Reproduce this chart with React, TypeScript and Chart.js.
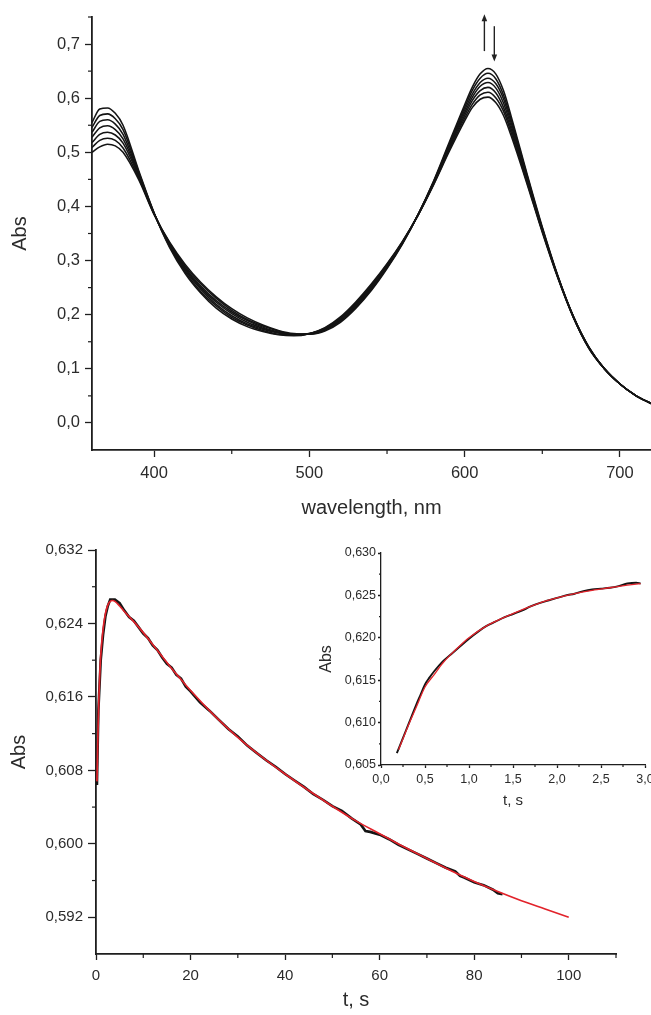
import React, { useEffect, useRef } from 'react';
import { Chart, registerables } from 'chart.js';

Chart.register(...registerables);

// ---------- Top panel: absorption spectra ----------
const WAVELENGTHS = [360, 365, 370, 375, 380, 390, 400, 410, 420, 430, 440, 450, 460, 470, 480, 490, 500, 510, 520, 530, 540, 550, 560, 570, 580, 590, 600, 605, 610, 615, 620, 625, 630, 640, 650, 660, 670, 680, 690, 700, 710, 720];
const SPEC_A = [0.555, 0.580, 0.582, 0.572, 0.550, 0.467, 0.388, 0.324, 0.276, 0.240, 0.212, 0.192, 0.178, 0.169, 0.163, 0.161, 0.165, 0.176, 0.196, 0.224, 0.257, 0.294, 0.336, 0.384, 0.440, 0.501, 0.558, 0.583, 0.598, 0.602, 0.592, 0.568, 0.530, 0.443, 0.352, 0.268, 0.195, 0.138, 0.100, 0.072, 0.051, 0.036];
const SPEC_B = [0.546, 0.568, 0.571, 0.562, 0.542, 0.464, 0.388, 0.326, 0.279, 0.243, 0.216, 0.195, 0.181, 0.171, 0.164, 0.162, 0.165, 0.175, 0.194, 0.222, 0.255, 0.293, 0.335, 0.384, 0.441, 0.504, 0.563, 0.589, 0.606, 0.611, 0.601, 0.576, 0.536, 0.446, 0.354, 0.269, 0.195, 0.138, 0.100, 0.072, 0.051, 0.036];
const SPEC_C = [0.537, 0.557, 0.560, 0.552, 0.533, 0.461, 0.387, 0.327, 0.282, 0.247, 0.219, 0.198, 0.183, 0.173, 0.166, 0.162, 0.165, 0.174, 0.193, 0.220, 0.253, 0.291, 0.334, 0.384, 0.442, 0.507, 0.568, 0.596, 0.614, 0.620, 0.610, 0.583, 0.542, 0.449, 0.355, 0.269, 0.196, 0.139, 0.100, 0.072, 0.051, 0.036];
const SPEC_D = [0.528, 0.545, 0.549, 0.542, 0.525, 0.459, 0.387, 0.329, 0.285, 0.250, 0.223, 0.202, 0.186, 0.175, 0.167, 0.163, 0.165, 0.173, 0.191, 0.218, 0.251, 0.290, 0.334, 0.385, 0.444, 0.510, 0.573, 0.602, 0.622, 0.629, 0.619, 0.591, 0.548, 0.453, 0.357, 0.270, 0.196, 0.139, 0.100, 0.072, 0.051, 0.036];
const SPEC_E = [0.518, 0.533, 0.537, 0.532, 0.517, 0.456, 0.386, 0.331, 0.287, 0.253, 0.226, 0.205, 0.189, 0.177, 0.168, 0.164, 0.164, 0.172, 0.189, 0.216, 0.249, 0.288, 0.333, 0.385, 0.445, 0.512, 0.578, 0.608, 0.629, 0.637, 0.627, 0.599, 0.554, 0.456, 0.359, 0.271, 0.196, 0.139, 0.100, 0.072, 0.051, 0.036];
const SPEC_F = [0.509, 0.522, 0.526, 0.522, 0.508, 0.453, 0.386, 0.332, 0.290, 0.257, 0.230, 0.208, 0.191, 0.179, 0.170, 0.164, 0.164, 0.171, 0.188, 0.214, 0.247, 0.287, 0.332, 0.385, 0.446, 0.515, 0.583, 0.615, 0.637, 0.646, 0.636, 0.606, 0.560, 0.459, 0.360, 0.271, 0.197, 0.140, 0.100, 0.072, 0.051, 0.036];
const SPEC_G = [0.500, 0.510, 0.515, 0.512, 0.500, 0.450, 0.385, 0.334, 0.293, 0.260, 0.233, 0.211, 0.194, 0.181, 0.171, 0.165, 0.164, 0.170, 0.186, 0.212, 0.245, 0.285, 0.331, 0.385, 0.447, 0.518, 0.588, 0.621, 0.645, 0.655, 0.645, 0.614, 0.566, 0.462, 0.362, 0.272, 0.197, 0.140, 0.100, 0.072, 0.051, 0.036];
const SPECTRA = [SPEC_A, SPEC_B, SPEC_C, SPEC_D, SPEC_E, SPEC_F, SPEC_G];

const TOP_X_TICKS = [400, 500, 600, 700];
const TOP_X_MINOR = [450, 550, 650];
const TOP_Y_TICKS = [0.0, 0.1, 0.2, 0.3, 0.4, 0.5, 0.6, 0.7];
const TOP_Y_MINOR = [0.05, 0.15, 0.25, 0.35, 0.45, 0.55, 0.65, 0.75];

// arrows near the 612 nm band (wavelength, from Abs, to Abs)
const ARROW_X = [612.7, 619.1];
const ARROW_FROM = [0.687, 0.733];
const ARROW_TO = [0.755, 0.668];

// ---------- Bottom panel: kinetics ----------
const KIN_FIT_T = [0.2, 0.4, 0.6, 0.8, 1.0, 1.5, 2, 2.5, 3, 3.5, 4, 5, 6, 8, 10, 12, 14, 16, 18, 20, 25, 30, 35, 40, 45, 50, 55, 60, 65, 70, 75, 80, 85, 90, 95, 100];
const KIN_FIT = [0.6068, 0.6118, 0.6157, 0.6185, 0.6205, 0.6234, 0.6251, 0.6260, 0.6264, 0.6265, 0.6264, 0.6259, 0.6253, 0.6242, 0.6230, 0.6217, 0.6204, 0.6191, 0.6179, 0.6167, 0.6140, 0.6116, 0.6095, 0.6076, 0.6058, 0.6041, 0.6025, 0.6011, 0.5997, 0.5984, 0.5971, 0.5959, 0.5948, 0.5938, 0.5929, 0.5920];
const KIN_DATA_T = [0.2, 0.5, 1, 1.5, 2, 2.5, 3, 4, 5, 6, 7, 8, 9, 10, 11, 12, 13, 14, 15, 16, 17, 18, 19, 20, 21, 22, 24, 26, 28, 30, 32, 34, 36, 38, 40, 42, 44, 46, 48, 50, 52, 54, 56, 57, 58, 60, 62, 64, 66, 68, 70, 72, 74, 76, 77, 78, 80, 82, 84, 85, 86];
const KIN_DATA = [0.6064, 0.6145, 0.6200, 0.6228, 0.6248, 0.6259, 0.6266, 0.6266, 0.6262, 0.6254, 0.6247, 0.6243, 0.6236, 0.6229, 0.6224, 0.6216, 0.6211, 0.6203, 0.6196, 0.6192, 0.6184, 0.6180, 0.6171, 0.6166, 0.6160, 0.6154, 0.6145, 0.6135, 0.6125, 0.6117, 0.6107, 0.6099, 0.6091, 0.6084, 0.6076, 0.6069, 0.6062, 0.6054, 0.6048, 0.6041, 0.6036, 0.6028, 0.6021, 0.6014, 0.6013, 0.6010, 0.6005, 0.5999, 0.5994, 0.5989, 0.5984, 0.5979, 0.5974, 0.5970, 0.5965, 0.5963, 0.5958, 0.5955, 0.5950, 0.5946, 0.5945];

const KIN_X_TICKS = [0, 20, 40, 60, 80, 100];
const KIN_X_MINOR = [10, 30, 50, 70, 90, 110];
const KIN_Y_TICKS = [0.592, 0.600, 0.608, 0.616, 0.624, 0.632];
const KIN_Y_MINOR = [0.596, 0.604, 0.612, 0.620, 0.628];

// ---------- Inset: first 3 s ----------
const INS_DATA_T = [0.18, 0.25, 0.3, 0.35, 0.4, 0.45, 0.5, 0.55, 0.6, 0.7, 0.8, 0.9, 1.0, 1.1, 1.2, 1.3, 1.4, 1.5, 1.6, 1.7, 1.8, 1.9, 2.0, 2.1, 2.2, 2.3, 2.4, 2.5, 2.6, 2.7, 2.8, 2.9, 2.95];
const INS_DATA = [0.6064, 0.6082, 0.6095, 0.6108, 0.6121, 0.6133, 0.6145, 0.6153, 0.6160, 0.6172, 0.6181, 0.6190, 0.6199, 0.6207, 0.6214, 0.6219, 0.6224, 0.6228, 0.6232, 0.6237, 0.6241, 0.6244, 0.6247, 0.6250, 0.6252, 0.6255, 0.6257, 0.6258, 0.6259, 0.6261, 0.6264, 0.6265, 0.6264];
const INS_FIT_T = [0.2, 0.3, 0.4, 0.5, 0.6, 0.7, 0.8, 0.9, 1.0, 1.2, 1.4, 1.6, 1.8, 2.0, 2.2, 2.4, 2.6, 2.8, 2.95];
const INS_FIT = [0.6068, 0.6094, 0.6118, 0.6142, 0.6156, 0.6170, 0.6181, 0.6191, 0.6200, 0.6214, 0.6224, 0.6233, 0.6241, 0.6247, 0.6252, 0.6256, 0.6259, 0.6262, 0.6264];

const INS_X_TICKS = [0, 0.5, 1.0, 1.5, 2.0, 2.5, 3.0];
const INS_X_MINOR = [0.25, 0.75, 1.25, 1.75, 2.25, 2.75];
const INS_Y_TICKS = [0.605, 0.610, 0.615, 0.620, 0.625, 0.630];
const INS_Y_MINOR = [0.6075, 0.6125, 0.6175, 0.6225, 0.6275];

// ---------- styling ----------
const FONT = "'Liberation Sans', Arial, Helvetica, sans-serif";
const TEXT = '#2b2b2b';
const AXIS = '#1e1e1e';
const RED = '#e2232b';
const BLACK = '#141414';

function fmtComma(v: number, d: number) {
  return Number(v).toFixed(d).replace('.', ',');
}

type AxisCfg = {
  min: number; max: number; ticks: number[]; decimals: number; size: number; horizontal: boolean;
  tickLength: number; tickPadding: number; fontSize: number; title: string; titleSize: number;
  titlePadding: number; borderWidth: number;
};

function makeAxis(c: AxisCfg) {
  return {
    type: 'linear',
    min: c.min,
    max: c.max,
    afterBuildTicks: (s: any) => { s.ticks = c.ticks.map((v) => ({ value: v })); },
    afterFit: (s: any) => {
      if (c.horizontal) s.height = c.size; else s.width = c.size;
      s.paddingLeft = 0; s.paddingRight = 0; s.paddingTop = 0; s.paddingBottom = 0;
    },
    grid: { display: true, drawOnChartArea: false, drawTicks: true, tickLength: c.tickLength, tickColor: AXIS, tickWidth: 1.3 },
    border: { display: true, color: AXIS, width: c.borderWidth },
    ticks: {
      autoSkip: false, maxRotation: 0, minRotation: 0, padding: c.tickPadding, color: TEXT,
      font: { family: FONT, size: c.fontSize },
      callback: (v: any) => fmtComma(v, c.decimals),
    },
    title: {
      display: true, text: c.title, color: TEXT,
      font: { family: FONT, size: c.titleSize, lineHeight: 1.2 },
      padding: c.horizontal ? { top: 0, bottom: c.titlePadding } : { top: c.titlePadding, bottom: 0 },
    },
  };
}

function minorTicks(id: string, items: { axis: string; values: number[]; length: number }[]) {
  return {
    id,
    afterDraw(chart: any) {
      const ctx = chart.ctx;
      ctx.save();
      ctx.strokeStyle = AXIS;
      ctx.lineWidth = 1.2;
      for (const it of items) {
        const s = chart.scales[it.axis];
        for (const v of it.values) {
          const p = s.getPixelForValue(v);
          ctx.beginPath();
          if (s.isHorizontal()) { ctx.moveTo(p, s.top); ctx.lineTo(p, s.top + it.length); }
          else { ctx.moveTo(s.right, p); ctx.lineTo(s.right - it.length, p); }
          ctx.stroke();
        }
      }
      ctx.restore();
    },
  };
}

const arrowsPlugin = {
  id: 'bandArrows',
  afterDraw(chart: any) {
    const ctx = chart.ctx;
    const xs = chart.scales.x;
    const ys = chart.scales.y;
    ctx.save();
    ctx.strokeStyle = '#222';
    ctx.fillStyle = '#222';
    ctx.lineWidth = 1.4;
    ARROW_X.forEach((wx, i) => {
      const x = xs.getPixelForValue(wx);
      const y0 = ys.getPixelForValue(ARROW_FROM[i]);
      const y1 = ys.getPixelForValue(ARROW_TO[i]);
      const dir = y1 < y0 ? -1 : 1;
      ctx.beginPath();
      ctx.moveTo(x, y0);
      ctx.lineTo(x, y1 - dir * 5);
      ctx.stroke();
      ctx.beginPath();
      ctx.moveTo(x, y1);
      ctx.lineTo(x - 2.8, y1 - dir * 7);
      ctx.lineTo(x + 2.8, y1 - dir * 7);
      ctx.closePath();
      ctx.fill();
    });
    ctx.restore();
  },
};

function lineDs(xs: number[], ys: number[], color: string, width: number, smooth: boolean) {
  return {
    data: xs.map((x, i) => ({ x, y: ys[i] })),
    borderColor: color,
    backgroundColor: color,
    borderWidth: width,
    pointRadius: 0,
    showLine: true,
    fill: false,
    cubicInterpolationMode: smooth ? 'monotone' : 'default',
    tension: smooth ? 0.4 : 0,
  };
}

const baseOptions = {
  responsive: false,
  maintainAspectRatio: false,
  animation: false,
  devicePixelRatio: 1,
  events: [],
  plugins: { legend: { display: false }, tooltip: { enabled: false } },
};

export default function App() {
  const topRef = useRef<HTMLCanvasElement>(null);
  const botRef = useRef<HTMLCanvasElement>(null);
  const insRef = useRef<HTMLCanvasElement>(null);

  useEffect(() => {
    const charts: Chart[] = [];

    charts.push(new Chart(topRef.current as HTMLCanvasElement, {
      type: 'scatter',
      data: { datasets: SPECTRA.map((s) => lineDs(WAVELENGTHS, s, BLACK, 1.55, true)) as any },
      options: {
        ...baseOptions,
        layout: { padding: { top: 17, left: 0, right: 0, bottom: 0 } },
        scales: {
          x: makeAxis({ min: 360, max: 720, ticks: TOP_X_TICKS, decimals: 0, size: 80, horizontal: true, tickLength: 7, tickPadding: 7, fontSize: 16.5, title: 'wavelength, nm', titleSize: 20, titlePadding: 10, borderWidth: 1.8 }),
          y: makeAxis({ min: -0.05, max: 0.75, ticks: TOP_Y_TICKS, decimals: 1, size: 92, horizontal: false, tickLength: 7, tickPadding: 5, fontSize: 16.5, title: 'Abs', titleSize: 20, titlePadding: 8, borderWidth: 1.8 }),
        },
      } as any,
      plugins: [
        minorTicks('topMinor', [
          { axis: 'x', values: TOP_X_MINOR, length: 4 },
          { axis: 'y', values: TOP_Y_MINOR, length: 4 },
        ]),
        arrowsPlugin,
      ] as any,
    }));

    charts.push(new Chart(botRef.current as HTMLCanvasElement, {
      type: 'scatter',
      data: {
        datasets: [
          lineDs(KIN_FIT_T, KIN_FIT, RED, 1.7, true),
          lineDs(KIN_DATA_T, KIN_DATA, BLACK, 2.6, false),
        ] as any,
      },
      options: {
        ...baseOptions,
        layout: { padding: { top: 30, left: 0, right: 35, bottom: 0 } },
        scales: {
          x: makeAxis({ min: 0, max: 110, ticks: KIN_X_TICKS, decimals: 0, size: 61, horizontal: true, tickLength: 6, tickPadding: 7, fontSize: 15, title: 't, s', titleSize: 20, titlePadding: 3, borderWidth: 1.8 }),
          y: makeAxis({ min: 0.588, max: 0.632, ticks: KIN_Y_TICKS, decimals: 3, size: 96, horizontal: false, tickLength: 8, tickPadding: 5, fontSize: 15, title: 'Abs', titleSize: 20, titlePadding: 7, borderWidth: 1.8 }),
        },
      } as any,
      plugins: [
        minorTicks('botMinor', [
          { axis: 'x', values: KIN_X_MINOR, length: 4 },
          { axis: 'y', values: KIN_Y_MINOR, length: 4 },
        ]),
      ] as any,
    }));

    charts.push(new Chart(insRef.current as HTMLCanvasElement, {
      type: 'scatter',
      data: {
        datasets: [
          lineDs(INS_FIT_T, INS_FIT, RED, 1.3, true),
          lineDs(INS_DATA_T, INS_DATA, BLACK, 1.9, true),
        ] as any,
      },
      options: {
        ...baseOptions,
        layout: { padding: { top: 13, left: 0, right: 6, bottom: 0 } },
        scales: {
          x: makeAxis({ min: 0, max: 3.0, ticks: INS_X_TICKS, decimals: 1, size: 50, horizontal: true, tickLength: 3, tickPadding: 4, fontSize: 12.5, title: 't, s', titleSize: 15, titlePadding: 5, borderWidth: 1.3 }),
          y: makeAxis({ min: 0.605, max: 0.630, ticks: INS_Y_TICKS, decimals: 3, size: 81, horizontal: false, tickLength: 3, tickPadding: 2, fontSize: 12.5, title: 'Abs', titleSize: 16, titlePadding: 17, borderWidth: 1.3 }),
        },
      } as any,
      plugins: [
        minorTicks('insMinor', [
          { axis: 'x', values: INS_X_MINOR, length: 2 },
          { axis: 'y', values: INS_Y_MINOR, length: 2 },
        ]),
      ] as any,
    }));

    return () => { charts.forEach((c) => c.destroy()); };
  }, []);

  return (
    <div style={{ position: 'absolute', left: 0, top: 0, width: 651, height: 1015, overflow: 'hidden', background: '#ffffff' }}>
      <canvas ref={topRef} width={651} height={530} style={{ position: 'absolute', left: 0, top: 0, width: 651, height: 530 }} />
      <canvas ref={botRef} width={651} height={495} style={{ position: 'absolute', left: 0, top: 520, width: 651, height: 495 }} />
      <canvas ref={insRef} width={351} height={275} style={{ position: 'absolute', left: 300, top: 540, width: 351, height: 275 }} />
    </div>
  );
}
